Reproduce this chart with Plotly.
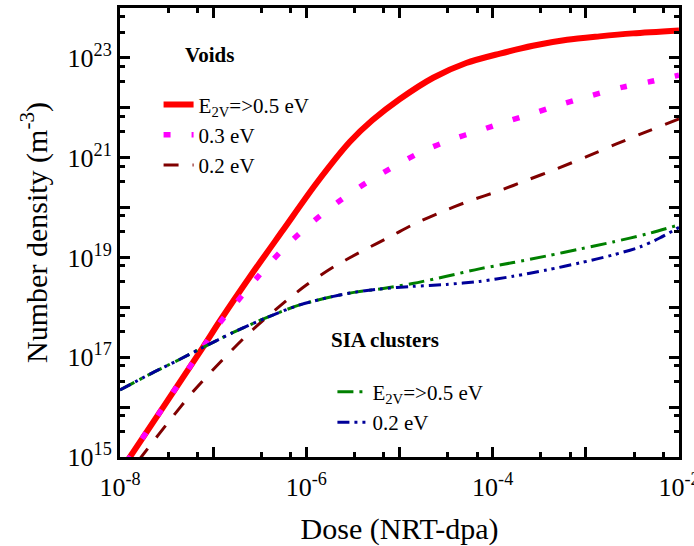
import plotly.graph_objects as go

# ---------------- data ----------------
dose_v05 = [1.17e-8, 3.16e-8, 7.76e-8, 1.17e-7, 2.5e-7, 5.6e-7, 1.29e-6, 2.95e-6, 5.1e-6,
            1.0e-5, 2.3e-5, 5.2e-5, 1.2e-4, 2.7e-4, 6.3e-4, 1.4e-3, 3.2e-3, 1.0e-2]
void_v05 = [7.8e14, 1.26e16, 1.58e17, 5.2e17, 4.2e18, 3.5e19, 3.1e20, 2.1e21, 5.6e21,
            1.48e22, 4.0e22, 7.9e22, 1.22e23, 1.75e23, 2.3e23, 2.7e23, 3.1e23, 3.55e23]

dose_v03 = [1.17e-8, 3.16e-8, 7.76e-8, 1.17e-7, 1.62e-7, 2.95e-7, 5.5e-7, 1.1e-6, 2.19e-6,
            4.47e-6, 8.9e-6, 1.78e-5, 3.6e-5, 7.2e-5, 1.45e-4, 2.95e-4, 5.9e-4, 1.17e-3,
            2.5e-3, 5.1e-3, 1.0e-2]
void_v03 = [7.8e14, 1.26e16, 1.58e17, 4.8e17, 1.02e18, 3.9e18, 1.41e19, 4.7e19, 1.29e20,
            3.2e20, 6.8e20, 1.35e21, 2.3e21, 3.5e21, 5.4e21, 8.1e21, 1.23e22, 1.78e22,
            2.6e22, 3.4e22, 4.5e22]

dose_v02 = [1.58e-8, 3.16e-8, 6.3e-8, 1.26e-7, 2.5e-7, 5.0e-7, 1.0e-6, 2.0e-6, 4.0e-6,
            8.5e-6, 1.38e-5, 2.7e-5, 5.6e-5, 1.2e-4, 2.3e-4, 4.9e-4, 1.02e-3, 2.1e-3,
            4.1e-3, 1.0e-2]
void_v02 = [8.5e14, 4.5e15, 2.2e16, 8.9e16, 3.2e17, 1.0e18, 2.8e18, 6.6e18, 1.35e19,
            2.8e19, 4.5e19, 7.9e19, 1.35e20, 2.2e20, 3.5e20, 6.0e20, 1.05e21, 1.86e21,
            3.1e21, 6.0e21]

dose_sia05 = [1.0e-8, 2.1e-8, 4.4e-8, 7.8e-8, 1.62e-7, 3.8e-7, 8.5e-7, 1.95e-6, 3.5e-6,
              6.2e-6, 1.38e-5, 3.2e-5, 7.2e-5, 1.66e-4, 3.8e-4, 8.7e-4, 1.95e-3, 4.5e-3, 1.0e-2]
sia_05 = [2.2e16, 4.6e16, 9.1e16, 1.58e17, 3.1e17, 6.3e17, 1.12e18, 1.66e18, 2.04e18,
          2.34e18, 3.0e18, 4.2e18, 5.9e18, 7.9e18, 1.07e19, 1.48e19, 2.04e19, 2.95e19, 4.5e19]

dose_sia02 = [1.0e-8, 2.1e-8, 4.4e-8, 7.8e-8, 1.62e-7, 3.8e-7, 8.5e-7, 1.95e-6, 3.5e-6,
              6.2e-6, 1.38e-5, 3.2e-5, 7.2e-5, 1.66e-4, 3.8e-4, 8.7e-4, 1.95e-3, 3.8e-3,
              6.2e-3, 1.0e-2]
sia_02 = [2.2e16, 4.6e16, 9.1e16, 1.58e17, 3.1e17, 6.3e17, 1.12e18, 1.66e18, 2.04e18,
          2.34e18, 2.63e18, 2.88e18, 3.3e18, 4.2e18, 5.6e18, 7.8e18, 1.12e19, 1.62e19,
          2.45e19, 4.0e19]

x_exps = [-8, -7, -6, -5, -4, -3, -2]
x_labeled = [-8, -6, -4, -2]
y_exps = [15, 16, 17, 18, 19, 20, 21, 22, 23, 24]
y_labeled = [15, 17, 19, 21, 23]
minor_fracs = [3.3, 6.8]

FONT = "Liberation Serif"

fig = go.Figure()

# void curves on the bottom/left axes; SIA curves on a second x/y pair with the
# same domain and ranges (top/right), so all four framed sides carry ticks
def add(x, y, name, color, width, dash, legend, xa="x", ya="y"):
    fig.add_trace(go.Scatter(x=x, y=y, mode="lines", name=name, legend=legend,
                             xaxis=xa, yaxis=ya,
                             line=dict(color=color, width=width, dash=dash, shape="spline",
                                       smoothing=0.8)))

add(dose_v05, void_v05, "E<sub>2V</sub>=&gt;0.5 eV", "#FF0000", 6, "solid", "legend")
add(dose_v03, void_v03, "0.3 eV", "#FF00FF", 5.5, "7px,21px", "legend")
add(dose_v02, void_v02, "0.2 eV", "#800000", 3, "15px,14px", "legend")
add(dose_sia05, sia_05, "E<sub>2V</sub>=&gt;0.5 eV", "#008000", 3, "16px,6px,3px,6px",
    "legend2", "x2", "y2")
add(dose_sia02, sia_02, "0.2 eV", "#000099", 3, "12px,5px,3px,5px,3px,5px",
    "legend2", "x2", "y2")

def sup_label(e):
    return "10<sup>%d</sup>" % e

xt_vals = [10.0 ** e for e in x_exps]
xt_text = [sup_label(e) if e in x_labeled else "" for e in x_exps]
yt_vals = [10.0 ** e for e in y_exps]
yt_text = [sup_label(e) if e in y_labeled else "" for e in y_exps]
x_minor = [f * 10.0 ** e for e in x_exps[:-1] for f in minor_fracs]
y_minor = [f * 10.0 ** e for e in y_exps[:-1] for f in minor_fracs]

tick_style = dict(type="log", showgrid=False, zeroline=False, showline=True,
                  linecolor="black", linewidth=3, ticks="inside", automargin=False,
                  ticklen=10, tickwidth=2.5, tickcolor="black", ticklabeloverflow="allow",
                  tickfont=dict(family=FONT, size=26, color="black"), tickmode="array",
                  domain=[0, 1])
minor_style = dict(tickmode="array", ticks="inside", ticklen=5, tickwidth=2.5,
                   tickcolor="black")

x_range = [-8, -2]
y_range = [15, 24]

fig.update_layout(
    template="none",
    xaxis=dict(**tick_style, range=x_range, tickvals=xt_vals, ticktext=xt_text,
               ticklabelstandoff=5, anchor="y", mirror="ticks",
               minor=dict(**minor_style, tickvals=x_minor),
               title=dict(text="Dose (NRT-dpa)",
                          font=dict(family=FONT, size=30, color="black"), standoff=18)),
    yaxis=dict(**tick_style, range=y_range, tickvals=yt_vals, ticktext=yt_text,
               anchor="x", mirror="ticks", minor=dict(**minor_style, tickvals=y_minor),
               title=dict(text="Number density (m<sup>-3</sup>)",
                          font=dict(family=FONT, size=30, color="black"), standoff=12)),
    xaxis2=dict(**tick_style, range=x_range, tickvals=xt_vals, showticklabels=False,
                side="top", anchor="y2",
                minor=dict(**minor_style, tickvals=x_minor)),
    yaxis2=dict(**tick_style, range=y_range, tickvals=yt_vals, showticklabels=False,
                side="right", anchor="x2",
                minor=dict(**minor_style, tickvals=y_minor)),
)

legend_common = dict(font=dict(family=FONT, size=21, color="black"), bgcolor="rgba(0,0,0,0)",
                     xanchor="left", yanchor="top", itemwidth=30, tracegroupgap=0,
                     borderwidth=0)
fig.update_layout(
    width=694, height=546,
    margin=dict(l=120, r=15, t=8, b=89),
    plot_bgcolor="rgba(0,0,0,0)", paper_bgcolor="white",
    font=dict(family=FONT, color="black"),
    showlegend=True,
    legend=dict(**legend_common, x=0.069, y=0.83),
    legend2=dict(**legend_common, x=0.38, y=0.19),
    annotations=[
        dict(text="<b>Voids</b>", x=0.161, y=0.895, xref="paper", yref="paper",
             xanchor="center", yanchor="middle", showarrow=False,
             font=dict(family=FONT, size=21, color="black")),
        dict(text="<b>SIA clusters</b>", x=0.474, y=0.26, xref="paper", yref="paper",
             xanchor="center", yanchor="middle", showarrow=False,
             font=dict(family=FONT, size=21, color="black")),
    ],
)

fig.write_html("out.html")
